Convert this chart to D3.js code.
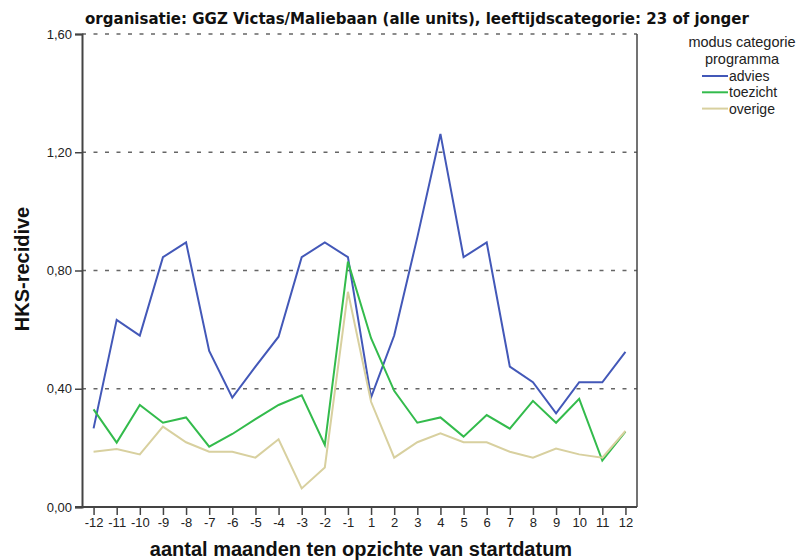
<!DOCTYPE html>
<html>
<head>
<meta charset="utf-8">
<script src="https://cdn.jsdelivr.net/npm/d3@7"></script>
<style>
  body { margin: 0; background: #fff; }
  text { font-family: Arial, "Liberation Sans", sans-serif; }
</style>
</head>
<body>
<script>
// months relative to start date (no 0)
const months = [-12, -11, -10, -9, -8, -7, -6, -5, -4, -3, -2, -1, 1, 2, 3, 4, 5, 6, 7, 8, 9, 10, 11, 12];
const advies   = [0.266, 0.633, 0.580, 0.845, 0.895, 0.528, 0.370, 0.475, 0.576, 0.845, 0.895, 0.845,
                  0.371, 0.580, 0.912, 1.262, 0.845, 0.895, 0.475, 0.422, 0.317, 0.422, 0.422, 0.525];
const toezicht = [0.330, 0.218, 0.345, 0.285, 0.303, 0.204, 0.247, 0.297, 0.345, 0.378, 0.210, 0.830,
                  0.571, 0.393, 0.285, 0.303, 0.238, 0.311, 0.265, 0.359, 0.285, 0.366, 0.157, 0.255];
const overige  = [0.187, 0.196, 0.178, 0.272, 0.219, 0.187, 0.187, 0.167, 0.229, 0.063, 0.134, 0.728,
                  0.356, 0.167, 0.219, 0.249, 0.219, 0.219, 0.187, 0.167, 0.198, 0.178, 0.167, 0.257];
const seriesNames = ['advies', 'toezicht', 'overige'];
const yTicks = [0, 0.4, 0.8, 1.2, 1.6];

const colors = { advies: '#4358b8', toezicht: '#33bb4c', overige: '#d8d09f' };
const series = [
  { name: 'advies', values: advies },
  { name: 'toezicht', values: toezicht },
  { name: 'overige', values: overige }
];

const W = 809, H = 560;
const plot = { left: 82, right: 637, top: 34, bottom: 507 };

const svg = d3.select('body').append('svg')
    .attr('width', W)
    .attr('height', H);

const x = d3.scalePoint()
    .domain(months)
    .range([plot.left, plot.right])
    .padding(0.5);

const y = d3.scaleLinear()
    .domain([0, 1.6])
    .range([plot.bottom, plot.top]);

const fmt = d => d.toFixed(2).replace('.', ',');

// gridlines (dashed)
svg.append('g')
    .selectAll('line')
    .data(yTicks.filter(d => d > 0))
    .join('line')
    .attr('x1', plot.left)
    .attr('x2', plot.right)
    .attr('y1', d => y(d))
    .attr('y2', d => y(d))
    .attr('stroke', '#666')
    .attr('stroke-width', 1.6)
    .attr('stroke-dasharray', '4,7.5');

// right border
svg.append('line')
    .attr('x1', plot.right).attr('x2', plot.right)
    .attr('y1', plot.top).attr('y2', plot.bottom)
    .attr('stroke', '#444').attr('stroke-width', 1.5);

// lines
const line = d3.line()
    .x((d, i) => x(months[i]))
    .y(d => y(d));

svg.append('g')
    .selectAll('path')
    .data(series)
    .join('path')
    .attr('d', d => line(d.values))
    .attr('fill', 'none')
    .attr('stroke', d => colors[d.name])
    .attr('stroke-width', 2);

// y axis
const yAxis = svg.append('g')
    .attr('transform', `translate(${plot.left},0)`)
    .call(d3.axisLeft(y).tickValues(yTicks).tickFormat(fmt).tickSize(7).tickPadding(3));
yAxis.select('.domain').attr('stroke', '#444').attr('stroke-width', 2);
yAxis.selectAll('.tick line').attr('stroke', '#444').attr('stroke-width', 1.5);
yAxis.selectAll('text').attr('font-size', 13).attr('fill', '#222');

// x axis
const xAxis = svg.append('g')
    .attr('transform', `translate(0,${plot.bottom})`)
    .call(d3.axisBottom(x).tickSize(8).tickPadding(3).tickSizeOuter(0));
xAxis.select('.domain').attr('stroke', '#444').attr('stroke-width', 2)
    .attr('d', `M${plot.left - 7},0H${plot.right}`);
xAxis.selectAll('.tick line').attr('stroke', '#444').attr('stroke-width', 1.5);
xAxis.selectAll('text').attr('font-size', 13).attr('fill', '#222');

// title
svg.append('text')
    .attr('x', 417)
    .attr('y', 24)
    .attr('text-anchor', 'middle')
    .attr('font-size', 16.7)
    .attr('font-weight', 'bold')
    .style('font-family', '"Liberation Sans Narrow", "DejaVu Sans Condensed", Arial, sans-serif')
    .attr('fill', '#111')
    .text('organisatie: GGZ Victas/Maliebaan (alle units), leeftijdscategorie: 23 of jonger');

// axis titles
svg.append('text')
    .attr('x', 361)
    .attr('y', 556)
    .attr('text-anchor', 'middle')
    .attr('font-size', 20)
    .attr('font-weight', 'bold')
    .attr('fill', '#111')
    .text('aantal maanden ten opzichte van startdatum');

svg.append('text')
    .attr('transform', 'translate(29,269) rotate(-90)')
    .attr('text-anchor', 'middle')
    .attr('font-size', 20)
    .attr('font-weight', 'bold')
    .attr('fill', '#111')
    .text('HKS-recidive');

// legend
const legend = svg.append('g');
legend.append('text')
    .attr('x', 742).attr('y', 47)
    .attr('text-anchor', 'middle')
    .attr('font-size', 14.5).attr('fill', '#222')
    .text('modus categorie');
legend.append('text')
    .attr('x', 742).attr('y', 64)
    .attr('text-anchor', 'middle')
    .attr('font-size', 14.5).attr('fill', '#222')
    .text('programma');

const items = legend.selectAll('g.item')
    .data(seriesNames)
    .join('g')
    .attr('class', 'item')
    .attr('transform', (d, i) => `translate(702,${76 + i * 16.3})`);
items.append('line')
    .attr('x1', 0).attr('x2', 26)
    .attr('stroke', d => colors[d])
    .attr('stroke-width', 2);
items.append('text')
    .attr('x', 27).attr('y', 5)
    .attr('font-size', 14).attr('fill', '#222')
    .text(d => d);
</script>
</body>
</html>
